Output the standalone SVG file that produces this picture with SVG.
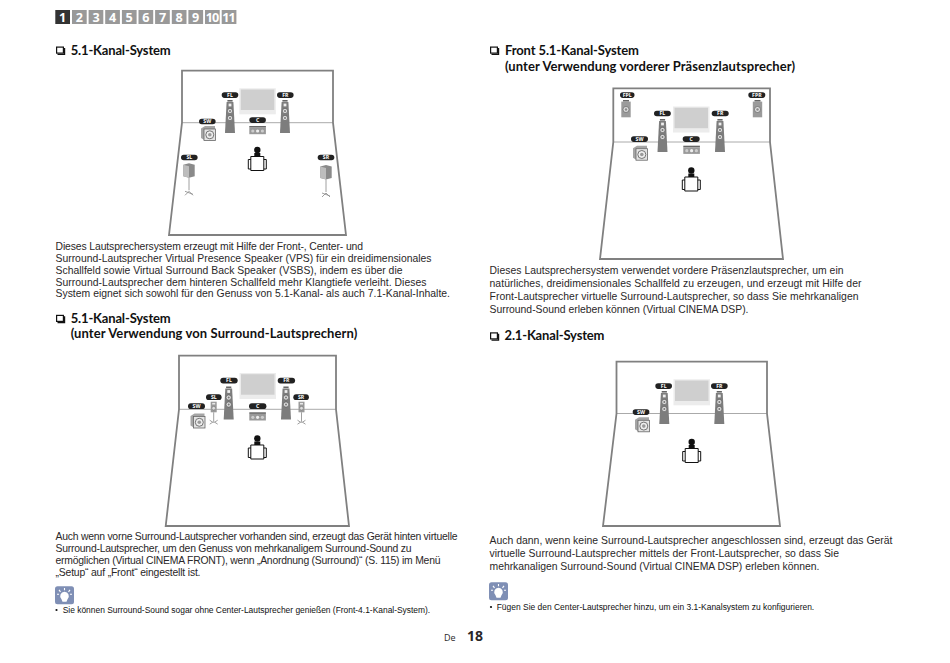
<svg xmlns="http://www.w3.org/2000/svg" width="950" height="663" viewBox="0 0 950 663">
<style>
text{font-family:"Liberation Sans",Arial,sans-serif;fill:#2a2728}
.b{font-size:10.4px}
.h{font-family:"Lato","Open Sans",sans-serif;font-weight:700;font-size:13px;fill:#111}
.n{font-size:8.45px;fill:#111}
.nav{font-family:"Open Sans",sans-serif;font-weight:700;font-size:12.6px;fill:#fff;text-anchor:middle}
.room{fill:none;stroke:#808080;stroke-width:1.8}
.floor{stroke:#aaa;stroke-width:1;fill:none}
.lab{fill:#222}
.lt{font-family:"Open Sans",sans-serif;font-size:5.2px;font-weight:700;fill:#fff;text-anchor:middle}
</style>
<defs>
<g id="tower">
<rect x="-2.6" y="0" width="5.2" height="1.6" fill="#666"/>
<path d="M-3.4 2H3.4L5 33H-5Z" fill="#7d7d7d"/>
<rect x="-1.4" y="3.6" width="2.8" height="2.8" fill="#eee"/>
<circle cy="11" r="2.6" fill="#ddd" stroke="#555" stroke-width=".6"/><circle cy="11" r="1" fill="#777"/>
<circle cy="18" r="2.6" fill="#ddd" stroke="#555" stroke-width=".6"/><circle cy="18" r="1" fill="#777"/>
</g>
<g id="tv"><rect x="0" y="0" width="36.5" height="26" fill="#ececec"/><rect x="1.5" y="1.2" width="33.5" height="20.5" fill="#cfcfcf"/></g>
<g id="sub">
<path d="M0 2.5 4 0H14V3H4V14.5L0 12Z" fill="#a5a5a5"/>
<rect x="3" y="3" width="11.5" height="11.5" fill="#e4e4e4" stroke="#666" stroke-width=".8"/>
<circle cx="8.8" cy="8.8" r="4" fill="#eee" stroke="#666" stroke-width=".9"/><circle cx="8.8" cy="8.8" r="1.8" fill="#999"/>
</g>
<g id="center">
<rect x="0" y="0" width="16.6" height="1.6" fill="#666"/>
<rect x="0" y="1.6" width="16.6" height="6.6" fill="#999"/>
<circle cx="8.3" cy="5" r="1.6" fill="#eee"/><circle cx="3.5" cy="5" r="1.6" fill="#ccc"/><circle cx="13.1" cy="5" r="1.6" fill="#ccc"/>
</g>
<g id="person">
<circle cx="0" cy="-5.5" r="3.2" fill="#111"/>
<path d="M-6.5 1H6.5V15H-6.5ZM-6.5 4H-9V13.5H-6.5M6.5 4H9V13.5H6.5" fill="#fff" stroke="#111" stroke-width="1"/>
<rect x="-3" y="-2.5" width="6" height="3.5" fill="#111"/>
</g>
<g id="rear">
<path d="M-5.7 1.5 0 0 5.7 1.5V13L0 14.5-5.7 13Z" fill="#8a8a8a"/>
<path d="M-5.7 1.5 0 3V14.5L-5.7 13Z" fill="#bdbdbd"/>
<path d="M0 14.5V27M-4 32 0 28 4 32M-4 28 4 31" fill="none" stroke="#888" stroke-width=".8"/>
</g>
<g id="small">
<rect x="-3" y="0" width="6" height="10.6" fill="#9a9a9a"/>
<circle cy="6.5" r="1.8" fill="#ddd" stroke="#666" stroke-width=".4"/>
<rect x="-1.5" y="1.2" width="3" height="1.6" fill="#e8e8e8"/>
<path d="M0 10.6V20M-4 18.5-1 20.5-4 22.5M4 18.5 1 20.5 4 22.5M-1 20.5H1" fill="none" stroke="#888" stroke-width=".8"/>
</g>
<g id="fp">
<rect x="-3" y="0" width="6" height="1.6" fill="#666"/>
<rect x="-4.7" y="1.6" width="9.4" height="15.7" fill="#9a9a9a"/>
<circle cy="9.5" r="3" fill="#ddd" stroke="#555" stroke-width=".6"/><circle cy="9.5" r="1.2" fill="#888"/>
</g>
<g id="check"><rect x="0.6" y="0.6" width="6.8" height="6" fill="#fff" stroke="#111" stroke-width="1.2"/><path d="M8.6 1.5V7.8H1.5" fill="none" stroke="#111" stroke-width="1.2"/></g>
<g id="tip">
<rect x="0" y="0" width="19" height="18" rx="2.5" fill="#7f8fb5"/>
<path d="M9.5 5.5a4.3 4.3 0 0 1 3 7.4L11.5 15.5H7.5L6.5 12.9a4.3 4.3 0 0 1 3-7.4Z" fill="#fff"/>
<path d="M9.5 1.6V4M4 3.5 5.5 5.5M15 3.5 13.5 5.5M2 8H4M17 8H15" stroke="#fff" stroke-width="1.1"/>
</g>
</defs>

<g id="nav">
<rect x="55.3" y="10" width="14.7" height="14" fill="#333"/><text class="nav" x="62.6" y="21.5">1</text>
<g fill="#999">
<rect x="72" y="10" width="14.7" height="14"/><rect x="88.6" y="10" width="14.7" height="14"/><rect x="105.2" y="10" width="14.7" height="14"/><rect x="121.9" y="10" width="14.7" height="14"/><rect x="138.5" y="10" width="14.7" height="14"/><rect x="155.1" y="10" width="14.7" height="14"/><rect x="171.8" y="10" width="14.7" height="14"/><rect x="188.4" y="10" width="14.7" height="14"/><rect x="205" y="10" width="14.7" height="14"/><rect x="221.7" y="10" width="14.7" height="14"/>
</g>
<text class="nav" x="79.3" y="21.5">2</text><text class="nav" x="96" y="21.5">3</text><text class="nav" x="112.6" y="21.5">4</text><text class="nav" x="129.2" y="21.5">5</text><text class="nav" x="145.9" y="21.5">6</text><text class="nav" x="162.5" y="21.5">7</text><text class="nav" x="179.1" y="21.5">8</text><text class="nav" x="195.7" y="21.5">9</text><text class="nav" x="212.4" y="21.5" textLength="13.5">10</text><text class="nav" x="229" y="21.5" textLength="13.5">11</text>
</g>

<g id="headings">
<use href="#check" x="56" y="46.5"/><text class="h" x="70.7" y="54.5" textLength="100">5.1-Kanal-System</text>
<use href="#check" x="56" y="314.8"/><text class="h" x="70.7" y="322.5" textLength="100">5.1-Kanal-System</text><text class="h" x="70.7" y="338" textLength="286.6">(unter Verwendung von Surround-Lautsprechern)</text>
<use href="#check" x="490" y="46.5"/><text class="h" x="505" y="54.5" textLength="134">Front 5.1-Kanal-System</text><text class="h" x="505" y="70.5" textLength="290">(unter Verwendung vorderer Präsenzlautsprecher)</text>
<use href="#check" x="490" y="332.3"/><text class="h" x="504.5" y="340" textLength="100">2.1-Kanal-System</text>
</g>

<g id="room1">
<path class="floor" d="M182 122.7H333"/><path class="room" d="M169 235 182 122.7V70.7H333V122.7L346 235Z"/>
<use href="#tv" x="239.3" y="88.3"/>
<use href="#tower" x="230" y="100"/><use href="#tower" x="285" y="100"/>
<use href="#center" x="249.3" y="126"/><use href="#sub" x="201" y="126"/>
<use href="#person" x="257.3" y="155.5"/>
<use href="#rear" x="189" y="163.3"/><use href="#rear" x="326" y="165"/>
<g id="labels1">
<rect class="lab" x="221.7" y="92.3" width="16.6" height="5.6" rx="2.8"/><text class="lt" x="230" y="96.9">FL</text>
<rect class="lab" x="277" y="92.3" width="16.6" height="5.6" rx="2.8"/><text class="lt" x="285.3" y="96.9">FR</text>
<rect class="lab" x="199" y="118.7" width="16.6" height="5.6" rx="2.8"/><text class="lt" x="207.3" y="123.3">SW</text>
<rect class="lab" x="249.3" y="117.3" width="16.6" height="5.6" rx="2.8"/><text class="lt" x="257.6" y="121.9">C</text>
<rect class="lab" x="181" y="154.7" width="16.6" height="5.6" rx="2.8"/><text class="lt" x="189.3" y="159.3">SL</text>
<rect class="lab" x="317.7" y="154.7" width="16.6" height="5.6" rx="2.8"/><text class="lt" x="326" y="159.3">SR</text>
</g>
</g>

<g id="room2">
<path class="floor" d="M613.3 142H770"/><path class="room" d="M600 259 613.3 142V88.3H770V142L783 259Z"/>
<use href="#tv" x="673" y="106.5"/>
<use href="#fp" x="626" y="100"/><use href="#fp" x="757.5" y="100"/>
<use href="#tower" x="662.5" y="119"/><use href="#tower" x="720" y="119"/>
<use href="#center" x="683.3" y="145.7"/><use href="#sub" x="633" y="145.7"/>
<use href="#person" x="691.3" y="176"/>
<g id="labels2">
<rect class="lab" x="620" y="92.3" width="14.5" height="5.6" rx="2.8"/><text class="lt" x="627.2" y="96.9">FPL</text>
<rect class="lab" x="748.3" y="92.3" width="17" height="5.6" rx="2.8"/><text class="lt" x="756.8" y="96.9">FPR</text>
<rect class="lab" x="654" y="110.7" width="16.8" height="5.6" rx="2.8"/><text class="lt" x="662.4" y="115.3">FL</text>
<rect class="lab" x="711.7" y="110.7" width="17" height="5.6" rx="2.8"/><text class="lt" x="720.2" y="115.3">FR</text>
<rect class="lab" x="631" y="136.3" width="17" height="5.6" rx="2.8"/><text class="lt" x="639.5" y="140.9">SW</text>
<rect class="lab" x="682.7" y="136.3" width="17" height="5.6" rx="2.8"/><text class="lt" x="691.2" y="140.9">C</text>
</g>
</g>

<g id="room3">
<path class="floor" d="M179 409.3H336"/><path class="room" d="M165.7 526 179 409.3V355.7H336V409.3L349 526Z"/>
<use href="#tv" x="239.5" y="373"/>
<use href="#tower" x="228.7" y="386.5"/><use href="#tower" x="286" y="386.5"/>
<use href="#center" x="249.3" y="412.3"/><use href="#sub" x="190.5" y="413.5"/>
<use href="#small" x="213.7" y="401.7"/><use href="#small" x="301.5" y="401.7"/>
<use href="#person" x="257.3" y="444"/>
<g id="labels3">
<rect class="lab" x="220.3" y="377.7" width="17.4" height="5.8" rx="2.9"/><text class="lt" x="229" y="382.4">FL</text>
<rect class="lab" x="277.7" y="377.7" width="17.4" height="5.8" rx="2.9"/><text class="lt" x="286.4" y="382.4">FR</text>
<rect class="lab" x="249" y="403.3" width="17.4" height="5.8" rx="2.9"/><text class="lt" x="257.7" y="408">C</text>
<rect class="lab" x="206" y="394.3" width="15.6" height="5.8" rx="2.9"/><text class="lt" x="213.8" y="399">SL</text>
<rect class="lab" x="293.3" y="394.3" width="15.6" height="5.8" rx="2.9"/><text class="lt" x="301.1" y="399">SR</text>
<rect class="lab" x="188" y="403.3" width="17" height="5.8" rx="2.9"/><text class="lt" x="196.5" y="408">SW</text>
</g>
</g>

<g id="room4">
<path class="floor" d="M616.5 413.5H767"/><path class="room" d="M603 526 616.5 413.5V361.7H767V413.5L780 526Z"/>
<use href="#tv" x="673.5" y="379.3"/>
<use href="#tower" x="664.3" y="391"/><use href="#tower" x="719.3" y="391"/>
<use href="#sub" x="635" y="417.3"/>
<use href="#person" x="691.7" y="447.5"/>
<g id="labels4">
<rect class="lab" x="655.3" y="383.3" width="16.7" height="5.6" rx="2.8"/><text class="lt" x="663.7" y="387.9">FL</text>
<rect class="lab" x="711" y="383.3" width="16.7" height="5.6" rx="2.8"/><text class="lt" x="719.4" y="387.9">FR</text>
<rect class="lab" x="632.7" y="409.3" width="16.7" height="5.6" rx="2.8"/><text class="lt" x="641" y="413.9">SW</text>
</g>
</g>

<g id="body">
<text class="b" x="55.5" y="250.3" textLength="307.5">Dieses Lautsprechersystem erzeugt mit Hilfe der Front-, Center- und</text>
<text class="b" x="55.5" y="262" textLength="376">Surround-Lautsprecher Virtual Presence Speaker (VPS) für ein dreidimensionales</text>
<text class="b" x="55.5" y="273.8" textLength="347">Schallfeld sowie Virtual Surround Back Speaker (VSBS), indem es über die</text>
<text class="b" x="55.5" y="285.5" textLength="371">Surround-Lautsprecher dem hinteren Schallfeld mehr Klangtiefe verleiht. Dieses</text>
<text class="b" x="55.5" y="297.3" textLength="394.5">System eignet sich sowohl für den Genuss von 5.1-Kanal- als auch 7.1-Kanal-Inhalte.</text>
<text class="b" x="55.5" y="540.3" textLength="402">Auch wenn vorne Surround-Lautsprecher vorhanden sind, erzeugt das Gerät hinten virtuelle</text>
<text class="b" x="55.5" y="552" textLength="356">Surround-Lautsprecher, um den Genuss von mehrkanaligem Surround-Sound zu</text>
<text class="b" x="55.5" y="564" textLength="385">ermöglichen (Virtual CINEMA FRONT), wenn „Anordnung (Surround)“ (S. 115) im Menü</text>
<text class="b" x="55.5" y="575.7" textLength="145">„Setup“ auf „Front“ eingestellt ist.</text>
<text class="b" x="489.5" y="274" textLength="354">Dieses Lautsprechersystem verwendet vordere Präsenzlautsprecher, um ein</text>
<text class="b" x="489.5" y="286.7" textLength="372">natürliches, dreidimensionales Schallfeld zu erzeugen, und erzeugt mit Hilfe der</text>
<text class="b" x="489.5" y="300" textLength="369">Front-Lautsprecher virtuelle Surround-Lautsprecher, so dass Sie mehrkanaligen</text>
<text class="b" x="489.5" y="313.3" textLength="259">Surround-Sound erleben können (Virtual CINEMA DSP).</text>
<text class="b" x="489.5" y="544" textLength="403">Auch dann, wenn keine Surround-Lautsprecher angeschlossen sind, erzeugt das Gerät</text>
<text class="b" x="489.5" y="556.7" textLength="349.5">virtuelle Surround-Lautsprecher mittels der Front-Lautsprecher, so dass Sie</text>
<text class="b" x="489.5" y="570" textLength="330">mehrkanaligen Surround-Sound (Virtual CINEMA DSP) erleben können.</text>
</g>

<g id="tips">
<use href="#tip" x="55" y="586.3"/>
<circle cx="56.5" cy="610" r="1.1" fill="#111"/>
<text class="n" x="62.7" y="613.3" textLength="367.5">Sie können Surround-Sound sogar ohne Center-Lautsprecher genießen (Front-4.1-Kanal-System).</text>
<use href="#tip" x="489" y="582.3"/>
<circle cx="491" cy="607" r="1.1" fill="#111"/>
<text class="n" x="496.7" y="610" textLength="317.5">Fügen Sie den Center-Lautsprecher hinzu, um ein 3.1-Kanalsystem zu konfigurieren.</text>
</g>

<g id="page">
<text x="444" y="641" style="font-family:'Open Sans',sans-serif;font-size:9px">De</text>
<text x="467" y="641" style="font-family:'Open Sans',sans-serif;font-size:14px;font-weight:700">18</text>
</g>
</svg>
